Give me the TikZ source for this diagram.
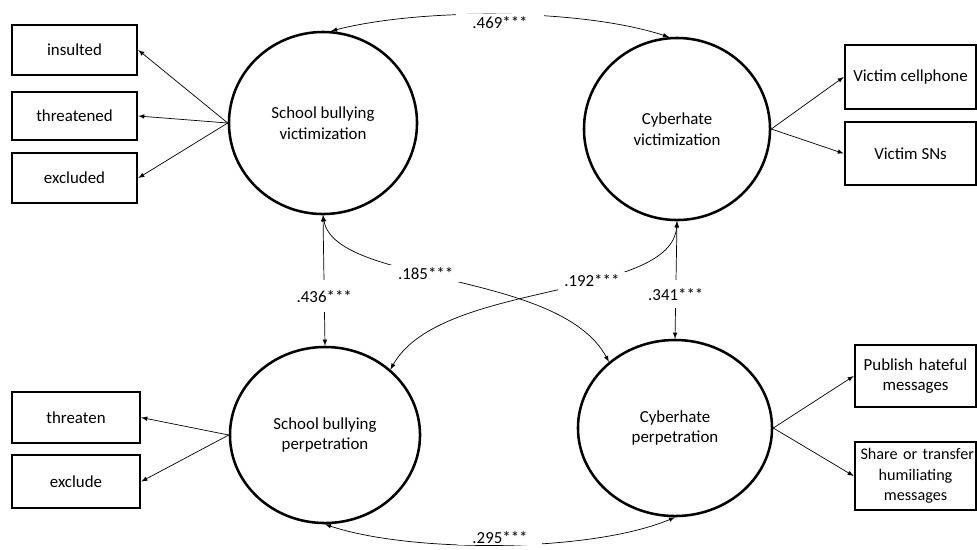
\documentclass[tikz,border=0pt]{standalone}
\usepackage{fontspec}
\setmainfont{Carlito}
\usetikzlibrary{arrows,shapes.geometric}
\tikzset{
  latent/.style={ellipse,draw,line width=1.8pt,inner sep=0pt,minimum width=4.7cm,minimum height=4.55cm,align=center},
  indicator/.style={rectangle,draw,line width=1.8pt,inner sep=0pt,align=center},
  coef/.style={fill=white,inner xsep=2pt,inner ysep=2pt},
  loading/.style={line width=0.5pt,-latex},
  covar/.style={line width=0.5pt,latex-latex}
}
\begin{document}
\begin{tikzpicture}[x=0.025cm,y=-0.025cm,font=\fontsize{12}{14.5}\selectfont]
  \useasboundingbox (0,0) rectangle (977,549);
  % latent factors
  \node[latent] (sbv) at (323,123) {School bullying\\victimization};
  \node[latent,minimum width=4.65cm] (cv) at (677,129) {Cyberhate\\victimization};
  \node[latent,minimum width=4.75cm,minimum height=4.4cm] (sbp) at (325,435) {School bullying\\perpetration};
  \node[latent,minimum width=4.85cm,minimum height=4.4cm] (cp) at (675,428) {Cyberhate\\perpetration};
  % indicators
  \node[indicator,minimum width=3.125cm,minimum height=1.25cm] (insulted) at (74.5,50) {insulted};
  \node[indicator,minimum width=3.125cm,minimum height=1.2cm] (threatened) at (74.5,116) {threatened};
  \node[indicator,minimum width=3.125cm,minimum height=1.25cm] (excluded) at (74.5,178) {excluded};
  \node[indicator,minimum width=3.2cm,minimum height=1.275cm] (threaten) at (76,417.5) {threaten};
  \node[indicator,minimum width=3.2cm,minimum height=1.325cm] (exclude) at (76,481.5) {exclude};
  \node[indicator,minimum width=3.275cm,minimum height=1.6cm] (cell) at (910.5,77) {Victim cellphone};
  \node[indicator,minimum width=3.275cm,minimum height=1.575cm] (sns) at (910.5,153.5) {Victim SNs};
  \node[indicator,minimum width=3.025cm,minimum height=1.55cm,text width=2.75cm] (publish) at (915.5,376) {Publish hateful\\messages};
  \node[indicator,minimum width=3.025cm,minimum height=1.7cm,text width=2.75cm,font=\fontsize{11.5}{14.5}\selectfont] (share) at (915.5,476) {\mbox{Share or transfer}\\humiliating\\messages};
  % loadings
  \draw[loading] (sbv.west) -- (insulted.east);
  \draw[loading] (sbv.west) -- (threatened.east);
  \draw[loading] (sbv.west) -- (excluded.east);
  \draw[loading] (sbp.west) -- (threaten.east);
  \draw[loading] (sbp.west) -- (exclude.east);
  \draw[loading] (cv.east) -- (cell.west);
  \draw[loading] (cv.east) -- (sns.west);
  \draw[loading] (cp.east) -- (publish.west);
  \draw[loading] (cp.east) -- (share.west);
  % covariances
  \draw[covar] (sbv.85) .. controls (420,8) and (580,8) .. (cv.95)
    node[coef,pos=0.5,inner xsep=0.4cm,yshift=-6pt] {.469***};
  \draw[covar] (sbp.south) .. controls (410,553) and (590,553) .. (cp.south)
    node[coef,pos=0.5,inner xsep=0.35cm,inner ysep=1pt,yshift=5pt] {.295***};
  \draw[covar] (sbv.south) -- (sbp.north) node[coef,pos=0.62,inner ysep=0.25cm] {.436***};
  \draw[covar] (cv.south) -- (cp.north) node[coef,pos=0.62,inner ysep=0.2cm] {.341***};
  \draw[covar] (sbv.south) .. controls (335,285) and (560,270) .. (cp.135)
    node[coef,pos=0.43,inner xsep=0.3cm] {.185***};
  \draw[covar] (cv.south) .. controls (672,300) and (440,280) .. (sbp.45)
    node[coef,pos=0.39,inner xsep=0.15cm] {.192***};
\end{tikzpicture}
\end{document}
